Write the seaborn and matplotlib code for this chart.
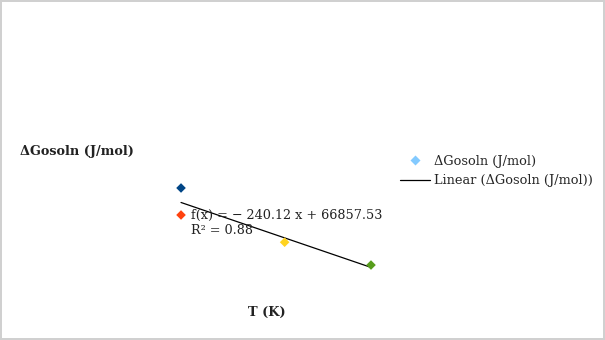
import matplotlib
matplotlib.use("Agg")
import matplotlib.pyplot as plt
import seaborn as sns
import numpy as np
import pandas as pd
from matplotlib.lines import Line2D

sns.set_theme(style="white")
plt.rcParams['font.family'] = ['DejaVu Serif', 'DejaVu Sans']

# Data
points = ["p1", "p2", "p3", "p4"]
temps = [298, 298, 310, 320]
dg = [-3460, -5688, -7935, -9816]
colors = ["#004586", "#ff420e", "#ffd320", "#579d1c"]
eq_text = "f(x) = − 240.12 x + 66857.53\nR² = 0.88"
title = "ΔGosoln (J/mol)"
xlabel = "T (K)"
legend_series = "ΔGosoln (J/mol)"
legend_trend = "Linear (ΔGosoln (J/mol))"

df = pd.DataFrame({"pt": points, "T": temps, "G": dg})

W, H = 605, 340
FS = 9.3
fig = plt.figure(figsize=(W / 100, H / 100), dpi=100)
fig.patch.set_edgecolor("#d0d0d0")
fig.patch.set_linewidth(1.5)

# axes in pixel box
x0, x1, y0, y1 = 140, 395, 170, 290
ax = fig.add_axes([x0 / W, 1 - y1 / H, (x1 - x0) / W, (y1 - y0) / H])

sns.scatterplot(data=df, x="T", y="G", hue="pt", palette=colors, marker="D",
                s=24, edgecolor="none", legend=False, ax=ax, zorder=3)

slope, intercept = np.polyfit(temps, dg, 1)
xs = np.array([min(temps), max(temps)])
ax.plot(xs, slope * xs + intercept, color="black", lw=0.9, zorder=2)

ax.set_xlim(293.25, 322.78)
ax.set_ylim(-11876, -1976)
for s in ax.spines.values():
    s.set_visible(False)
ax.set_xticks([])
ax.set_yticks([])
ax.set_xlabel("")
ax.set_ylabel("")

fig.text(191 / W, 1 - 208.5 / H, eq_text, fontsize=9.2, va="top", ha="left",
         color="#222222", linespacing=1.2)

fig.text(20 / W, 1 - 151 / H, title, fontsize=FS, fontweight="bold",
         ha="left", va="center", color="#222222")
fig.text(267 / W, 1 - 312 / H, xlabel, fontsize=FS, fontweight="bold",
         ha="center", va="center", color="#222222")

handles = [
    Line2D([0], [0], marker="D", color="none", markerfacecolor="#83caff",
           markeredgecolor="none", markersize=5),
    Line2D([0], [0], color="black", lw=0.9),
]
fig.legend(handles, [legend_series, legend_trend], loc="upper left",
           bbox_to_anchor=(400 / W, 1 - 155 / H), frameon=False, fontsize=FS,
           handlelength=2.3, handletextpad=0.3, labelspacing=0.5,
           borderaxespad=0, borderpad=0)

fig.savefig("out.png", dpi=100)
